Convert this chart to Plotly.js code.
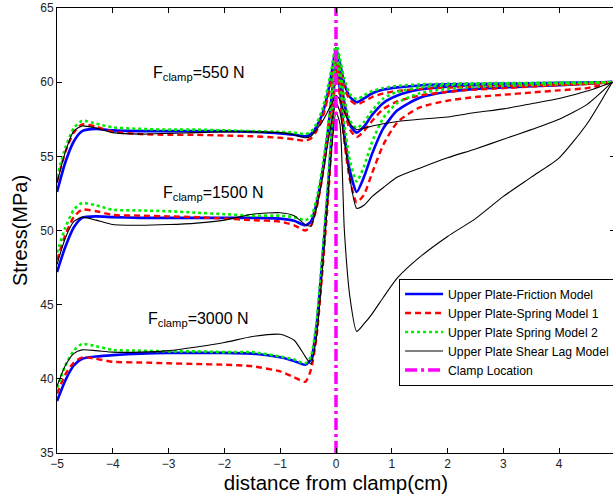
<!DOCTYPE html>
<html>
<head>
<meta charset="utf-8">
<script src="https://cdn.plot.ly/plotly-3.0.1.min.js"></script>
<style>
html,body{margin:0;padding:0;overflow:hidden;background:#fff;}
#chart{width:620px;height:497px;}
</style>
</head>
<body>
<div id="chart"></div>
<script>
// shared x grid (cm)
var xGrid = [-5, -4.85, -4.7, -4.55, -4.3, -4, -3.5, -3, -2.5, -2, -1.5, -1, -0.75, -0.55, -0.45, -0.35, -0.25, -0.15, -0.07, 0, 0.07, 0.15, 0.25, 0.37, 0.5, 0.65, 0.85, 1.1, 1.5, 2, 2.5, 3, 3.5, 4, 4.5, 4.95];

// F_clamp = 550 N
var friction550 = [52.6, 54.6, 56.0, 56.7, 56.85, 56.75, 56.7, 56.7, 56.7, 56.7, 56.65, 56.55, 56.45, 56.35, 56.5, 57.0, 57.8, 59.2, 60.8, 62.3, 61.3, 59.9, 59.0, 58.65, 58.9, 59.25, 59.5, 59.65, 59.78, 59.85, 59.88, 59.9, 59.93, 59.95, 59.97, 60];
var spring1_550 = [53.3, 55.3, 56.6, 57.15, 57.0, 56.65, 56.5, 56.45, 56.45, 56.4, 56.35, 56.25, 56.15, 56.05, 56.2, 56.7, 57.5, 58.9, 60.3, 61.8, 60.9, 59.6, 58.8, 58.5, 58.7, 59.0, 59.25, 59.4, 59.55, 59.63, 59.7, 59.75, 59.8, 59.85, 59.9, 60];
var spring2_550 = [53.6, 55.6, 56.9, 57.4, 57.2, 56.95, 56.85, 56.8, 56.8, 56.75, 56.7, 56.65, 56.6, 56.5, 56.65, 57.2, 58.1, 59.6, 61.1, 62.6, 61.6, 60.2, 59.2, 58.85, 59.1, 59.4, 59.6, 59.75, 59.85, 59.9, 59.92, 59.94, 59.95, 59.97, 59.98, 60];
var shearLag550 = [53.2, 55.3, 56.7, 57.05, 56.9, 56.6, 56.5, 56.55, 56.6, 56.65, 56.65, 56.6, 56.45, 56.25, 56.35, 56.8, 57.3, 58.0, 58.6, 59.1, 58.8, 58.0, 57.2, 56.8, 56.9, 57.05, 57.2, 57.35, 57.5, 57.65, 57.95, 58.2, 58.55, 58.9, 59.4, 60];

// F_clamp = 1500 N
var friction1500 = [47.2, 48.9, 50.2, 50.85, 50.95, 50.9, 50.85, 50.85, 50.85, 50.85, 50.85, 50.8, 50.65, 50.35, 50.6, 51.8, 53.8, 56.5, 59.3, 62.0, 60.6, 58.6, 57.1, 56.6, 57.0, 57.8, 58.6, 59.1, 59.5, 59.7, 59.8, 59.85, 59.9, 59.93, 59.96, 60];
var spring1_1500 = [48.0, 49.7, 50.9, 51.4, 51.3, 51.05, 51.0, 50.95, 50.9, 50.8, 50.7, 50.6, 50.35, 50.0, 50.3, 51.5, 53.5, 56.2, 58.9, 61.5, 60.1, 58.2, 56.8, 56.3, 56.7, 57.4, 58.2, 58.7, 59.1, 59.35, 59.5, 59.6, 59.7, 59.8, 59.88, 60];
var spring2_1500 = [48.5, 50.2, 51.4, 51.85, 51.7, 51.4, 51.35, 51.3, 51.2, 51.1, 51.0, 51.0, 50.9, 50.7, 50.9, 52.1, 54.1, 56.8, 59.6, 62.3, 60.9, 58.9, 57.4, 56.9, 57.3, 58.1, 58.9, 59.35, 59.65, 59.8, 59.87, 59.9, 59.93, 59.95, 59.97, 60];
var shearLag1500 = [47.7, 49.5, 50.6, 50.9, 50.7, 50.4, 50.35, 50.4, 50.5, 50.7, 51.1, 51.2, 51.0, 50.4, 50.3, 51.5, 53.4, 55.8, 57.5, 58.6, 58.0, 56.0, 53.5, 51.5, 51.7, 52.3, 52.9, 53.6, 54.2, 54.9, 55.5, 56.15, 56.8, 57.5, 58.5, 60];

// F_clamp = 3000 N
var friction3000 = [38.5, 39.9, 40.9, 41.35, 41.5, 41.6, 41.7, 41.75, 41.75, 41.75, 41.7, 41.45, 41.2, 40.95, 41.3, 43.5, 47.8, 52.5, 57.0, 61.5, 59.5, 56.5, 54.0, 52.6, 53.6, 55.2, 56.9, 58.1, 58.95, 59.35, 59.55, 59.65, 59.72, 59.8, 59.9, 60];
var spring1_3000 = [39.0, 40.3, 41.1, 41.45, 41.35, 41.15, 41.1, 41.05, 41.0, 40.95, 40.85, 40.5, 40.1, 39.8, 40.6, 42.8, 47.0, 51.8, 56.4, 61.0, 59.0, 56.0, 53.4, 51.9, 52.4, 53.9, 55.8, 57.3, 58.3, 58.75, 59.0, 59.15, 59.3, 59.45, 59.6, 60];
var spring2_3000 = [39.4, 40.9, 41.9, 42.35, 42.2, 41.95, 41.9, 41.85, 41.85, 41.8, 41.8, 41.5, 41.3, 41.05, 41.5, 43.8, 48.1, 52.8, 57.4, 62.0, 60.0, 57.2, 54.7, 53.3, 54.3, 56.0, 57.6, 58.6, 59.25, 59.55, 59.68, 59.75, 59.8, 59.86, 59.92, 60];
var shearLag3000 = [39.5, 40.9, 41.7, 41.95, 41.9, 41.8, 41.8, 41.9, 42.15, 42.45, 42.85, 43.0, 42.6, 41.5, 41.0, 42.8, 47.0, 52.0, 55.8, 58.0, 57.2, 50.0, 45.5, 43.2, 43.7, 44.4, 45.5, 46.8, 48.2, 49.6, 50.8, 52.3, 53.6, 54.9, 57.2, 60];

// clamp location
var clampX = [0, 0];
var clampY = [35, 65];

var modelNames = ['Upper Plate-Friction Model', 'Upper Plate-Spring Model 1', 'Upper Plate Spring Model 2', 'Upper Plate Shear Lag Model'];
var forceLabels = ['F<sub>clamp</sub>=550 N', 'F<sub>clamp</sub>=1500 N', 'F<sub>clamp</sub>=3000 N'];

var seriesByModel = [
  [friction550, friction1500, friction3000],
  [spring1_550, spring1_1500, spring1_3000],
  [spring2_550, spring2_1500, spring2_3000],
  [shearLag550, shearLag1500, shearLag3000]
];
var lineStyles = [
  {color: '#0000ff', width: 2.6, dash: 'solid'},
  {color: '#ff0000', width: 2.4, dash: '6px,4px'},
  {color: '#00ee00', width: 2.6, dash: 'dot'},
  {color: '#000000', width: 1.1, dash: 'solid'}
];

var traces = [];
for (var m = 0; m < 4; m++) {
  for (var g = 0; g < 3; g++) {
    traces.push({
      x: xGrid, y: seriesByModel[m][g], type: 'scatter', mode: 'lines',
      name: modelNames[m], legendgroup: 'm' + m, showlegend: g === 0,
      line: {color: lineStyles[m].color, width: lineStyles[m].width, dash: lineStyles[m].dash, shape: 'spline', smoothing: 0.6}
    });
  }
}
traces.push({
  x: clampX, y: clampY, type: 'scatter', mode: 'lines', name: 'Clamp Location',
  line: {color: '#ff00ff', width: 3.5, dash: '12px,4px,3px,4px'}
});

var axisCommon = {
  showline: true, linecolor: '#000', linewidth: 1, mirror: 'ticks',
  ticks: 'inside', ticklen: 5, tickcolor: '#000', tickwidth: 1,
  showgrid: false, zeroline: false,
  tickfont: {family: 'Liberation Sans, Arial, sans-serif', size: 12, color: '#222'}
};

var layout = {
  width: 620, height: 497,
  margin: {l: 57, r: 5, t: 8, b: 44, autoexpand: false},
  paper_bgcolor: '#fff', plot_bgcolor: '#fff',
  font: {family: 'Liberation Sans, Arial, sans-serif', color: '#000'},
  showlegend: true,
  legend: {x: 0.613, y: 0.392, xanchor: 'left', yanchor: 'top',
    bgcolor: '#fff', bordercolor: '#000', borderwidth: 1, itemwidth: 38,
    font: {size: 12.2, color: '#000'}, tracegroupgap: 0},
  xaxis: Object.assign({}, axisCommon, {
    range: [-5, 5], tickmode: 'array', tickvals: [-5, -4, -3, -2, -1, 0, 1, 2, 3, 4],
    title: {text: 'distance from clamp(cm)', font: {size: 20.5, color: '#000'}, standoff: 2}
  }),
  yaxis: Object.assign({}, axisCommon, {
    range: [35, 65], dtick: 5,
    title: {text: 'Stress(MPa)', font: {size: 20, color: '#000'}, standoff: 7}
  }),
  annotations: [
    {x: -2.45, y: 60.6, xref: 'x', yref: 'y', text: forceLabels[0], showarrow: false, font: {size: 16, color: '#000'}},
    {x: -2.2, y: 52.5, xref: 'x', yref: 'y', text: forceLabels[1], showarrow: false, font: {size: 16, color: '#000'}},
    {x: -2.46, y: 44.0, xref: 'x', yref: 'y', text: forceLabels[2], showarrow: false, font: {size: 16, color: '#000'}}
  ]
};

Plotly.newPlot('chart', traces, layout, {displayModeBar: false, staticPlot: true});
</script>
</body>
</html>
